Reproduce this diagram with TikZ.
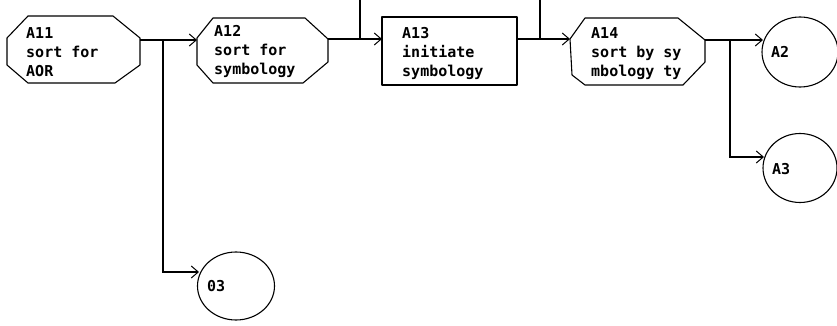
\documentclass[tikz,border=0pt]{standalone}
\usepackage{fontspec}
\setmonofont{DejaVu Sans Mono}
\usetikzlibrary{arrows.meta,shapes.geometric}
\begin{document}
\begin{tikzpicture}[x=1pt,y=-1pt,
  shp/.style={draw=black,line width=1.1pt,line join=round},
  conn/.style={draw=black,line width=1.3pt},
  arr/.style={conn,-{Straight Barb[length=7pt,width=12pt,line width=1pt]}},
  txt/.style={font=\ttfamily\bfseries\fontsize{15}{19}\selectfont,align=left,inner sep=0pt,anchor=north west},
  lbl/.style={font=\ttfamily\bfseries\fontsize{15}{19}\selectfont,inner sep=0pt,anchor=west},
  circ/.style={ellipse,draw=black,line width=1.1pt,inner sep=0pt}]
\useasboundingbox (0,0) rectangle (837,326);

% process shapes
\draw[shp] (7,38) -- (28,16) -- (113,16) -- (140,38) -- (140,65) -- (115,83) -- (28,83) -- (7,65) -- cycle;
\draw[shp] (197,38) -- (213,18) -- (305,18) -- (328,39) -- (328,62) -- (303,83) -- (213,83) -- (197,65) -- cycle;
\draw[shp] (382,17) rectangle (517,85);
\draw[shp] (570,39) -- (585,18) -- (678,18) -- (705,40) -- (705,62) -- (683,85) -- (585,85) -- (572,75) -- cycle;

\node[txt] (A11) at (26,27) {A11\\sort for\\AOR};
\node[txt] (A12) at (214,25) {A12\\sort for\\symbology};
\node[txt] (A13) at (402,27) {A13\\initiate\\symbology};
\node[txt] (A14) at (591,27) {A14\\sort by sy\\mbology ty};

% terminal shapes
\node[circ,minimum width=76pt,minimum height=70pt] (A2) at (800,52) {};
\node[circ,minimum width=74pt,minimum height=69pt] (A3) at (800,168) {};
\node[circ,minimum width=77pt,minimum height=68pt] (O3) at (236,286) {};
\node[lbl] (A2t) at (771,52) {A2};
\node[lbl] (A3t) at (772,169) {A3};
\node[lbl] (O3t) at (207,286) {03};

% ports
\coordinate (A11out) at (140,40);
\coordinate (A12in) at (197,40);
\coordinate (A12out) at (328,39);
\coordinate (A13in) at (382,39);
\coordinate (A13out) at (517,39);
\coordinate (A14in) at (570,39);
\coordinate (A14out) at (705,40);
\coordinate (A2in) at (763,40);
\coordinate (A3in) at (764,157);
\coordinate (O3in) at (199,272);
\coordinate (J1) at (163,40);
\coordinate (J2) at (360,39);
\coordinate (J3) at (540,39);
\coordinate (J4) at (730,40);
\coordinate (T2) at (360,0);
\coordinate (T3) at (540,0);

% connectors
\draw[arr] (A11out) -- (A12in);
\draw[arr] (J1) |- (O3in);
\draw[arr] (A12out) -- (A13in);
\draw[conn] (T2) -- (J2);
\draw[arr] (A13out) -- (A14in);
\draw[conn] (T3) -- (J3);
\draw[arr] (A14out) -- (A2in);
\draw[arr] (J4) |- (A3in);
\end{tikzpicture}
\end{document}
